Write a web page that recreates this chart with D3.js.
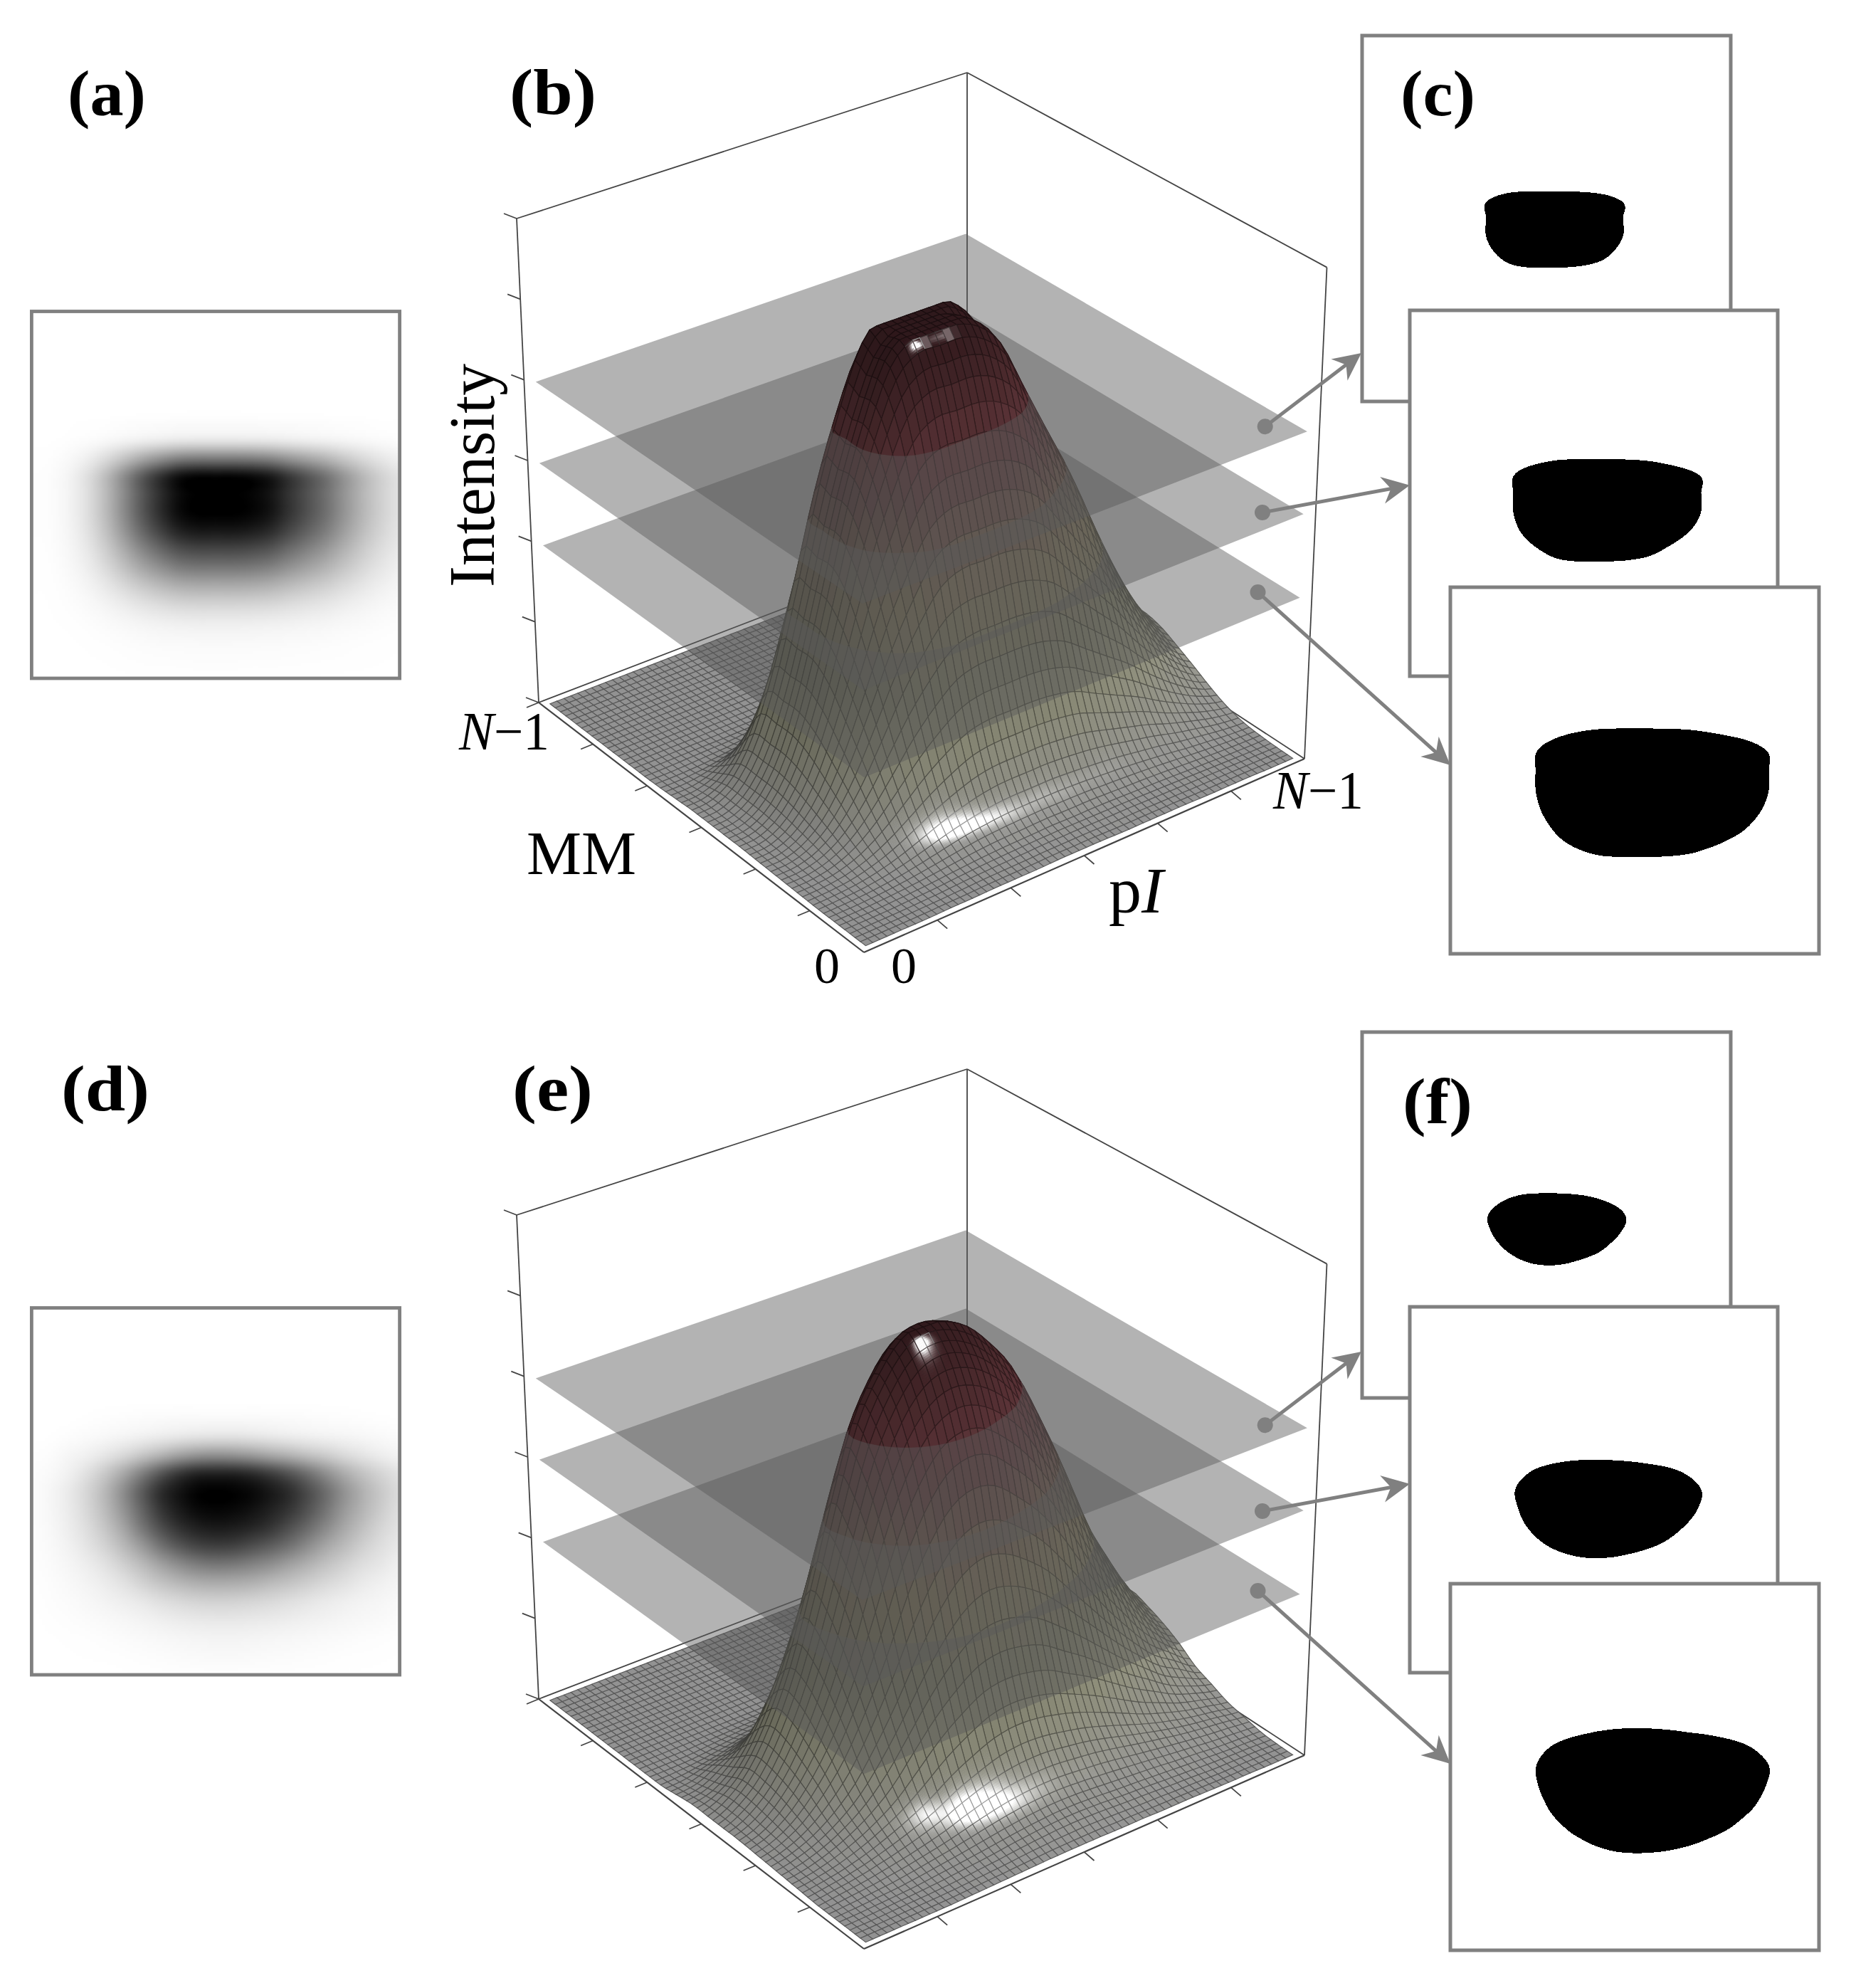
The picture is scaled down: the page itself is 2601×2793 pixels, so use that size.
<!DOCTYPE html>
<html><head><meta charset="utf-8">
<style>html,body{margin:0;padding:0;background:#fff;overflow:hidden}svg{display:block}text{font-family:"Liberation Serif",serif;fill:#000}</style>
<script src="https://cdn.jsdelivr.net/npm/d3@7/dist/d3.min.js"></script>
</head><body>
<script>
// Intensity tables (a) and (d): 21 columns (left to right), 21 rows (top to bottom), percent of box height.
const intensityTop = [
[0,0,0,0,0,0,0,0,0,0,0,0,0,0,0,0,0,0,0,0,0],[0,0,0,0,0,0,0,0,0,0,0,0,0,0,0,0,0,0,0,0,0],[0,0,0,0,0,0,0,0,0,0,0,0,0,0,0,0,0,0,0,0,0],
[0,0,0,0,0,0,0,0,0,0,0,0,0,0,0,0,0,0,0,0,0],[0,0,0,0,0,0,0,0,0,0,0,0,0,0,0,0,0,0,0,0,0],[0,0,0,0,0,0,0,0,0,0,0,0,0,0,0,0,0,0,0,0,0],
[0,0,.1,.2,.3,.6,.8,1,1.2,1.3,1.3,1.3,1.2,1.1,1,.9,.7,.5,.4,.2,.2],
[.1,.1,.4,1.1,2.3,3.9,5.6,7,8.1,8.5,8.5,8.5,8.3,7.8,6.8,5.8,4.8,3.6,2.5,1.6,1],
[.3,.5,2.1,5.7,12,20.3,29.1,36.4,42.1,44.2,44.2,44.2,43.2,40.6,35.4,30.2,25,18.7,13,8.3,5.2],
[.5,1,3.9,10.8,22.5,38.2,54.9,68.6,79.4,83.3,83.3,83.3,81.3,76.4,66.6,56.8,47,35.3,24.5,15.7,9.8],
[.5,1,4,11,23,39,56,70,81,85,85,85,83,78,68,58,48,36,25,16,10],
[.5,1,4,11,23,39,56,70,81,85,85,85,83,78,68,58,48,36,25,16,10],
[.5,.9,3.6,9.9,20.7,35.1,50.4,63,72.9,76.5,76.5,76.5,74.7,70.2,61.2,52.2,43.2,32.4,22.5,14.4,9],
[.4,.7,2.9,7.9,16.6,28.1,40.3,50.4,58.3,61.2,61.2,61.2,59.8,56.2,49,41.8,34.6,25.9,18,11.5,7.2],
[.3,.5,2.1,5.8,12.2,20.7,29.7,37.1,43,45.1,45.1,45.1,44,41.3,36,30.7,25.4,19.1,13.3,8.5,5.3],
[.2,.3,1.3,3.6,7.6,12.9,18.5,23.1,26.7,28,28,28,27.4,25.7,22.4,19.1,15.8,11.9,8.3,5.3,3.3],
[.1,.2,.7,1.9,3.9,6.6,9.5,11.9,13.8,14.5,14.5,14.5,14.1,13.3,11.6,9.9,8.2,6.1,4.3,2.7,1.7],
[0,.1,.3,.8,1.6,2.7,3.9,4.9,5.6,6,6,6,5.7,5.3,4.8,4.1,3.4,2.5,1.8,1.1,.7],
[0,0,.1,.3,.6,1,1.4,1.8,2,2.1,2.2,2.1,2.1,1.9,1.7,1.5,1.2,.9,.6,.4,.3],
[0,0,0,.1,.2,.4,.6,.7,.8,.9,.9,.9,.8,.8,.7,.6,.5,.4,.3,.2,.1],
[0,0,0,0,.1,.1,.2,.2,.2,.3,.3,.3,.2,.2,.2,.2,.1,.1,.1,0,0]];
const intensityBottom = [
[0,0,0,0,0,0,0,0,0,0,0,0,0,0,0,0,0,0,0,0,0],[0,0,0,0,0,0,0,0,0,0,0,0,0,0,0,0,0,0,0,0,0],[0,0,0,0,0,0,0,0,0,0,0,0,0,0,0,0,0,0,0,0,0],
[0,0,0,0,0,0,0,0,0,0,0,0,0,0,0,0,0,0,0,0,0],[0,0,0,0,0,0,0,0,0,0,0,0,0,0,0,0,0,0,0,0,0],[0,0,0,0,0,0,0,0,0,0,0,0,0,0,0,0,0,0,0,0,0],
[0,0,0,.3,.6,.9,1.3,1.6,1.9,2,2,2,2,1.8,1.6,1.3,1,.8,.5,.3,.1],
[0,.2,.8,1.6,2.6,3.8,5.2,6.8,8.3,9.5,10,10,9.2,8,6.8,5.6,4.6,3.8,2.9,2,1.4],
[.5,1,3,5,8.5,13,19,25,31,35,36.5,35.5,33,29,25.5,21,17,12.5,9,6,4],
[1,2,5,10.5,18.5,29,42,55,65,71,72,71.5,68.5,63,56,47,37,27.5,20,14,9.5],
[1,3,7,14,24,38,54,68.5,77,82.5,84,83,80.5,75.5,69,59,48,36,26,18,12],
[1,3,6.8,13.5,23,36,51.5,66,75,80.5,82,81,78,73,66.5,57,46,34,25,17,11],
[1,2.5,6,11.5,19.5,30.5,45,58,67.5,73,75,74,71,66,58,49,39,29,21,14,9.5],
[.8,2,4.6,9,15,23.5,34,46,55,61,63,62,58,53,46.5,38,29.5,22.5,16,11,7.5],
[.6,1.5,3.2,6,10,16,23,31,38,43,45,44,41,37,31.5,26,20.5,15.5,11,8,5],
[.4,1,2.2,4,6.5,10,15,20,24,27,28,27.5,26,23,20,16.5,13,10,7,5,3.5],
[.2,.7,1.4,2.5,4,5.8,8,10.8,13,14.8,15.5,15.2,14.2,12.8,11,9,7,5.4,4,3,2],
[0,.4,.8,1.4,2.1,3,4.1,5.5,6.7,7.6,8,8,7.5,6.9,6,5,4.1,3.2,2.5,1.9,1.2],
[0,.1,.3,.5,.9,1.4,1.9,2.5,3.1,3.6,3.9,3.9,3.6,3.2,2.8,2.4,1.9,1.5,1,.7,.4],
[0,0,.1,.2,.3,.5,.8,1.1,1.5,1.8,2,2,1.8,1.5,1.3,1,.8,.5,.4,.3,.1],
[0,0,0,0,0,.1,.2,.3,.4,.5,.5,.5,.4,.4,.3,.3,.2,.1,.1,0,0]];
const planeLevels = [66.5, 49.7, 32.7];           // the three cutting planes, top one first
const tickFractions = [0, 1/6, 2/6, 3/6, 4/6, 5/6, 1];
const rowOffsets = [0, 1400];
const colourLevels = [0, 15, 25, 40, 58, 66, 75, 85];
const colourValues = ["#8e8e8e","#8b8b78","#767664","#78705a","#5e4242","#5c3438","#48282b","#2e181b"];
const panelLabels = [["(a)","(b)","(c)"],["(d)","(e)","(f)"]];

const W=2601,H=2793,CELLS=60,FINE=129,E=.015,SUB=6;
const svg=d3.select("body").append("svg").attr("width",W).attr("height",H).attr("viewBox",[0,0,W,H]);
svg.append("rect").attr("width",W).attr("height",H).attr("fill","#fff");
const GREY="#808080";

function cr(a,b,c,d,t){return .5*((2*b)+(c-a)*t+(2*a-5*b+4*c-d)*t*t+(3*b-a-3*c+d)*t*t*t);}
function line1(arr,pos){const m=arr.length-1,p=Math.min(m-1e-9,Math.max(0,pos*m)),i=Math.floor(p),g=k=>arr[Math.max(0,Math.min(m,k))];return cr(g(i-1),g(i),g(i+1),g(i+2),p-i);}
// display resampling of the read table, so that the mesh and the grey image look smooth
function resample(M,n){const s=d3.scaleLinear().domain([0,n-1]).range([0,1]),top=d3.max(M.flat());
 const rows=M.map(r=>d3.range(n).map(i=>line1(r,s(i))));
 return d3.range(n).map(j=>d3.range(n).map(i=>Math.min(top,Math.max(0,line1(rows.map(r=>r[i]),s(j))))));}

// box geometry: floor and top corners of the 3-D frame
const floorC={F:[1214,1338],R:[1833,1066],L:[757,987],B:[1359,756]};
const topC  ={F:[1207,614],R:[1864.5,375.6],L:[726,307],B:[1359,102]};
const mix=(a,b,t)=>[a[0]+(b[0]-a[0])*t,a[1]+(b[1]-a[1])*t];
function bil(C,u,v){return mix(mix(C.F,C.R,u),mix(C.L,C.B,u),v);}
function proj(u,v,w){return mix(bil(floorC,u,v),bil(topC,u,v),w);}
const inner=d3.scaleLinear().domain([0,1]).range([E,1-E]);
const colourScale=d3.scaleLinear().domain(colourLevels).range(colourValues).clamp(true);
const L0=[.28,-.42,.86];

function clipW(poly,lim,keepAbove){const out=[];for(let i=0;i<poly.length;i++){const a=poly[i],b=poly[(i+1)%poly.length];
  const ia=keepAbove?a[2]>=lim:a[2]<=lim,ib=keepAbove?b[2]>=lim:b[2]<=lim;
  if(ia)out.push(a);
  if(ia!==ib){const t=(lim-a[2])/(b[2]-a[2]);out.push([a[0]+(b[0]-a[0])*t,a[1]+(b[1]-a[1])*t,lim]);}}
 return out;}
const pathOf=(pts,close)=>{const s=pts.map(p=>{const q=proj(p[0],p[1],p[2]);return q[0].toFixed(1)+","+q[1].toFixed(1)}).join("L");return "M"+s+(close?"Z":"");};
const lerp3=(a,b,t)=>[a[0]+(b[0]-a[0])*t,a[1]+(b[1]-a[1])*t,a[2]+(b[2]-a[2])*t];
const unit=v=>{const l=Math.hypot(...v);return v.map(x=>x/l);};
const dot3=(a,b)=>a[0]*b[0]+a[1]*b[1]+a[2]*b[2];

function drawSurface(root,table,anchor,specPow){
 const N=CELLS,G=resample(table,N+1).map(r=>r.map(x=>x/100));
 const du=1/N;
 const nrm=(i,j)=>{const a=Math.max(0,i-1),b=Math.min(N,i+1),c=Math.max(0,j-1),d=Math.min(N,j+1);
  const wu=(G[j][b]-G[j][a])/((b-a)*du),wv=-(G[d][i]-G[c][i])/((d-c)*du);
  const l=Math.hypot(wu,wv,1);return [-wu/l,-wv/l,1/l];};
 const Hv=nrm(Math.round(anchor[0]*N),Math.round(anchor[1]*N));
 const specOf=n=>Math.pow(Math.max(0,dot3(n,Hv)),specPow);
 const shade=(nn,w)=>{const dif=Math.max(0,dot3(nn,L0)),sp=specOf(nn),base=d3.rgb(colourScale(w*100)),f=.72+.36*dif;
  const ch=c=>{const x=Math.min(255,c*f);return x+(255-x)*Math.min(1,sp*1.8);};
  return d3.rgb(ch(base.r),ch(base.g),ch(base.b));};
 const quads=[];
 for(let j=0;j<N;j++)for(let i=0;i<N;i++){
  const u0=inner(i/N),u1=inner((i+1)/N),v0=inner(1-j/N),v1=inner(1-(j+1)/N);
  const q=[[u0,v0,G[j][i]],[u1,v0,G[j][i+1]],[u1,v1,G[j+1][i+1]],[u0,v1,G[j+1][i]]];
  const ns=[nrm(i,j),nrm(i+1,j),nrm(i+1,j+1),nrm(i,j+1)];
  const wm=d3.mean(q,p=>p[2]);
  const nn=unit([0,1,2].map(k=>d3.mean(ns,n=>n[k])));
  const fill=shade(nn,wm),stroke=d3.rgb(fill.r*.6,fill.g*.6,fill.b*.6);
  const Q={q,order:i+(N-1-j),fill:fill+"",stroke:stroke+""};
  if(d3.max(ns,specOf)>.012){  // finer shading where the highlight falls; the mesh stays at one cell
   Q.subs=[];
   for(let a=0;a<SUB;a++)for(let b=0;b<SUB;b++){
    const at=(s,t)=>lerp3(lerp3(q[0],q[1],s),lerp3(q[3],q[2],s),t);
    const nAt=(s,t)=>unit(lerp3(lerp3(ns[0],ns[1],s),lerp3(ns[3],ns[2],s),t));
    const s0=a/SUB,s1=(a+1)/SUB,t0=b/SUB,t1=(b+1)/SUB,sm=(s0+s1)/2,tm=(t0+t1)/2;
    Q.subs.push({poly:[at(s0,t0),at(s1,t0),at(s1,t1),at(s0,t1)],fill:shade(nAt(sm,tm),at(sm,tm)[2])+""});
   }
  }
  quads.push(Q);
 }
 quads.sort((a,b)=>b.order-a.order);
 const lv=planeLevels.map(x=>x/100);
 const bands=[[-1,lv[2]],[lv[2],lv[1]],[lv[1],lv[0]],[lv[0],9]];
 const planeOrder=[lv[2],lv[1],lv[0]];
 bands.forEach((bd,bi)=>{
  const items=[];
  quads.forEach(Q=>{
   const ws=Q.q.map(p=>p[2]),mn=d3.min(ws),mx=d3.max(ws);
   if(mx<=bd[0]||mn>=bd[1])return;
   if(mn>=bd[0]&&mx<=bd[1]){
    if(Q.subs){
     Q.subs.forEach(s=>items.push({d:pathOf(s.poly,true),f:s.fill,s:s.fill,w:.7}));
     items.push({d:pathOf(Q.q,true),f:"none",s:Q.stroke,w:1.15});
    } else items.push({d:pathOf(Q.q,true),f:Q.fill,s:Q.stroke,w:1.15});
    return;}
   const poly=clipW(clipW(Q.q,bd[0],true),bd[1],false);
   if(poly.length<3)return;
   items.push({d:pathOf(poly,true),f:Q.fill,s:Q.fill,w:.7});
   let e="";
   for(let k=0;k<4;k++){const sg=clipW(clipW([Q.q[k],Q.q[(k+1)%4]],bd[0],true),bd[1],false);
     if(sg.length>=2)e+=pathOf(sg.slice(0,2),false);}
   if(e)items.push({d:e,f:"none",s:Q.stroke,w:1.15});
  });
  root.append("g").selectAll("path").data(items).join("path")
   .attr("d",d=>d.d).attr("fill",d=>d.f).attr("stroke",d=>d.s).attr("stroke-width",d=>d.w);
  if(bi<3){const lw=planeOrder[bi];
   root.append("path").attr("d",pathOf([[E,E,lw],[1-E,E,lw],[1-E,1-E,lw],[E,1-E,lw]],true))
    .attr("fill","#5a5a5a").attr("fill-opacity",.46);}
 });
}

function seg(root,a,b,w,c){root.append("line").attr("x1",a[0]).attr("y1",a[1]).attr("x2",b[0]).attr("y2",b[1]).attr("stroke",c||"#444").attr("stroke-width",w||1.8);}
function frameBack(root){
 const P=proj;
 [[[0,1,1],[1,1,1]],[[1,1,1],[1,0,1]],[[0,1,1],[0,1,0]],[[1,1,1],[1,1,0]],[[1,0,1],[1,0,0]],[[0,1,0],[1,1,0]],[[1,1,0],[1,0,0]]]
  .forEach(s=>seg(root,P(...s[0]),P(...s[1])));
}
function frameFront(root){
 const P=proj;
 seg(root,P(0,1,0),P(0,0,0),2.2);seg(root,P(0,0,0),P(1,0,0),2.2);
 tickFractions.forEach((t,k)=>{
  const a=P(0,1,t);seg(root,a,[a[0]-18,a[1]-7],1.8);            // intensity ticks
  if(k>0){const b=P(0,t,0);seg(root,b,[b[0]-17,b[1]+7],1.8);}  // MM ticks
  if(k>0&&k<6){const c=P(t,0,0);seg(root,c,[c[0]+14,c[1]+12],1.8);} // pI ticks
 });
}

function heat(root,table,box){
 const g=resample(table,FINE),mx=d3.max(g.flat());
 const col=d3.scaleLinear().domain([0,mx]).range(["#fff","#000"]);
 const cv=document.createElement("canvas");cv.width=cv.height=FINE;const c=cv.getContext("2d");
 g.forEach((r,j)=>r.forEach((v,i)=>{c.fillStyle=col(v);c.fillRect(i,j,1,1);}));
 root.append("image").attr("x",box[0]).attr("y",box[1]).attr("width",box[2]).attr("height",box[3]).attr("preserveAspectRatio","none").attr("href",cv.toDataURL());
 root.append("rect").attr("x",box[0]).attr("y",box[1]).attr("width",box[2]).attr("height",box[3]).attr("fill","none").attr("stroke",GREY).attr("stroke-width",4.8);
}
function binary(root,table,box,level){
 const g=resample(table,FINE).flat();
 const cs=d3.contours().size([FINE,FINE]).thresholds([level])(g)[0];
 const sx=d3.scaleLinear().domain([.5,FINE-.5]).range([box[0],box[0]+box[2]]),sy=d3.scaleLinear().domain([.5,FINE-.5]).range([box[1],box[1]+box[3]]);
 const path=d3.geoPath(d3.geoTransform({point(x,y){this.stream.point(sx(x),sy(y));}}));
 root.append("rect").attr("x",box[0]).attr("y",box[1]).attr("width",box[2]).attr("height",box[3]).attr("fill","#fff").attr("stroke",GREY).attr("stroke-width",5);
 root.append("path").attr("d",path(cs)).attr("fill","#000").attr("shape-rendering","crispEdges");
}
function arrow(root,from,to){
 const a=Math.atan2(to[1]-from[1],to[0]-from[0]),ca=Math.cos(a),sa=Math.sin(a);
 const at=(l,s)=>[to[0]-l*ca-s*sa,to[1]-l*sa+s*ca];
 seg(root,from,at(25,0),5,GREY);
 root.append("path").attr("d",d3.line()([to,at(39,19),at(27,0),at(39,-19)])+"Z").attr("fill",GREY);
 root.append("circle").attr("cx",from[0]).attr("cy",from[1]).attr("r",11).attr("fill",GREY);
}
function label(root,s,x,y,size,weight,len){const t=root.append("text").attr("x",x).attr("y",y).attr("font-size",size).attr("font-weight",weight||400).text(s);
 if(len)t.attr("textLength",len).attr("lengthAdjust","spacingAndGlyphs");return t;}

const heatBox=[44.4,437.5,517.2,515.5];
const binBoxes=[[1914,50,518,514],[1981,436,517,514],[2038,825,518,515]];
const dots=[[1777.7,599.3],[1774,720],[1767.5,832]];
const tips=[[1913,496],[1981,681.7],[2038,1075]];
const labelX=[[95,716,1968],[86,720,1971]],labelY=[[162,160,162],[160,160,178]],labelLen=[[110,122,105],[124,113,98]];
const arrowShift=[0,3];

[intensityTop,intensityBottom].forEach((table,row)=>{
 const root=svg.append("g").attr("transform",`translate(0,${rowOffsets[row]})`);
 heat(root,table,heatBox);
 frameBack(root);
 drawSurface(root,table,row?[.37,.85]:[.31,.85],row?125:140);
 frameFront(root);
 dots.forEach((d,i)=>arrow(root,[d[0],d[1]+arrowShift[row]],[tips[i][0],tips[i][1]+arrowShift[row]]));
 binBoxes.forEach((b,i)=>binary(root,table,b,planeLevels[i]));
 panelLabels[row].forEach((s,i)=>label(root,s,labelX[row][i],labelY[row][i],90,700,labelLen[row][i]));
 if(row===0){
  root.append("text").attr("transform","translate(694,825) rotate(-90)").attr("font-size",90).attr("textLength",314).attr("lengthAdjust","spacingAndGlyphs").text("Intensity");
  const n1=(x,y)=>{const t=label(root,"",x,y,76,400,127);t.append("tspan").attr("font-style","italic").text("N");t.append("tspan").text("−1");};
  n1(645,1053);n1(1789,1136);
  label(root,"MM",740,1228,86,400,154);
  const p=label(root,"p",1558,1282,92);p.append("tspan").attr("font-style","italic").text("I");
  label(root,"0",1144,1381,72);label(root,"0",1252,1381,72);
 }
});
</script>
</body></html>
